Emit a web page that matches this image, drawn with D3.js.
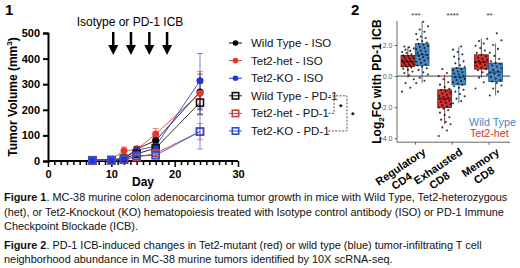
<!DOCTYPE html>
<html><head><meta charset="utf-8">
<script src="https://cdn.jsdelivr.net/npm/d3@7"></script>
<style>body{margin:0;background:#fff}svg{display:block;font-family:"Liberation Sans",Arial,sans-serif}</style>
</head><body><svg id="c" width="520" height="268"></svg>
<script>
// ---------- Panel 1 data ----------
const days = [7, 10, 12, 14, 17, 24];
const seriesNames = ["Wild Type - ISO", "Tet2-het - ISO", "Tet2-KO - ISO", "Wild Type - PD-1", "Tet2-het - PD-1", "Tet2-KO - PD-1"];
const wtIso = [3, 5, 10, 47, 80, 270];
const wtIsoErr = [1, 2, 4, 10, 12, 70];
const hetIso = [3, 6, 40, 45, 105, 265];
const hetIsoErr = [1, 2, 15, 10, 22, 85];
const koIso = [2, 4, 8, 42, 58, 313];
const koIsoErr = [1, 2, 3, 8, 12, 107];
const wtPd1 = [3, 4, 9, 28, 50, 228];
const wtPd1Err = [1, 2, 3, 6, 10, 45];
const hetPd1 = [2, 3, 6, 15, 30, 115];
const hetPd1Err = [1, 1, 2, 4, 8, 32];
const koPd1 = [2, 3, 5, 20, 22, 115];
const koPd1Err = [1, 1, 2, 5, 6, 68];
const yTicks1 = [0, 100, 200, 300, 400, 500];
const xTicks1 = [0, 10, 20, 30];
const arrowDays = [10.3, 13.1, 16, 18.8];

// ---------- Panel 2 data ----------
const cats = ["Regulatory\nCD4", "Exhausted\nCD8", "Memory\nCD8"];
const groups = ["Tet2-het", "Wild Type"];
const stars = ["***", "****", "**"];
// box stats [whiskerLow, q1, median, q3, whiskerHigh]
const hetBox = [[-0.1, 0.62, 0.94, 1.33, 1.9], [-3.1, -2.02, -1.46, -0.88, 0.1], [-0.1, 0.45, 0.9, 1.37, 2.4]];
const wtBox = [[-0.45, 0.68, 1.37, 2.08, 3.5], [-1.75, -0.56, -0.05, 0.52, 1.9], [-1.25, -0.35, 0.26, 0.84, 2.1]];
const hetRegPts = [-1.0, -0.75, -0.45, -0.2, 0.05, 0.2, 0.3, 0.4, 0.48, 0.55, 0.6, 0.63, 0.66, 0.7, 0.74, 0.78, 0.82, 0.86, 0.9, 0.93, 0.95, 0.98, 1.02, 1.06, 1.1, 1.14, 1.18, 1.22, 1.26, 1.3, 1.34, 1.4, 1.48, 1.55, 1.62, 1.7, 1.78, 1.85, 1.9];
const wtRegPts = [-0.45, -0.3, -0.1, 0.1, 0.25, 0.4, 0.5, 0.6, 0.68, 0.75, 0.85, 0.92, 1.0, 1.08, 1.15, 1.22, 1.3, 1.36, 1.42, 1.5, 1.58, 1.65, 1.72, 1.8, 1.88, 1.95, 2.02, 2.08, 2.15, 2.25, 2.35, 2.45, 2.55, 2.7, 2.85, 3.0, 3.2, 3.5];
const hetExhPts = [-3.85, -3.5, -3.3, -3.1, -2.95, -2.8, -2.65, -2.5, -2.35, -2.2, -2.1, -2.02, -1.95, -1.88, -1.8, -1.72, -1.65, -1.58, -1.52, -1.46, -1.4, -1.34, -1.28, -1.2, -1.12, -1.05, -0.98, -0.9, -0.82, -0.7, -0.55, -0.4, -0.2, 0.0, 0.2, 0.45];
const wtExhPts = [-1.75, -1.6, -1.45, -1.3, -1.15, -1.0, -0.88, -0.75, -0.65, -0.56, -0.48, -0.4, -0.32, -0.25, -0.18, -0.1, -0.05, 0.02, 0.1, 0.17, 0.24, 0.3, 0.38, 0.45, 0.52, 0.6, 0.7, 0.82, 0.95, 1.1, 1.25, 1.4, 1.55, 1.7, 1.9];
const hetMemPts = [-0.8, -0.4, -0.1, 0.1, 0.25, 0.38, 0.45, 0.55, 0.65, 0.72, 0.8, 0.88, 0.92, 0.98, 1.05, 1.12, 1.2, 1.28, 1.37, 1.5, 1.65, 1.8, 1.95, 2.1, 2.25, 2.4];
const wtMemPts = [-1.25, -1.0, -0.8, -0.6, -0.45, -0.35, -0.25, -0.15, -0.05, 0.05, 0.15, 0.22, 0.3, 0.4, 0.5, 0.6, 0.7, 0.78, 0.84, 0.95, 1.1, 1.3, 1.5, 1.75, 2.0, 2.3, 2.75];
const yTicks2 = [-4, -2, 0, 2];

// ---------- Caption ----------
const captionLines = [
  ["Figure 1", ". MC-38 murine colon adenocarcinoma tumor growth in mice with Wild Type, Tet2-heterozygous"],
  ["", "(het), or Tet2-Knockout (KO) hematopoiesis treated with Isotype control antibody (ISO) or PD-1 Immune"],
  ["", "Checkpoint Blockade (ICB)."],
  ["Figure 2", ". PD-1 ICB-induced changes in Tet2-mutant (red) or wild type (blue) tumor-infiltrating T cell"],
  ["", "neighborhood abundance in MC-38 murine tumors identified by 10X scRNA-seq."]
];

const svg = d3.select("#c");

// ================= PANEL 1 =================
const x1 = d3.scaleLinear().domain([0, 30]).range([48, 238]);
const y1 = d3.scaleLinear().domain([0, 500]).range([161, 33]);

svg.append("text").attr("x", 5).attr("y", 15).attr("font-size", 15).attr("font-weight", "bold").text("1");

const series = [
  {name: seriesNames[0], v: wtIso, e: wtIsoErr, color: "#000000", shape: "circle"},
  {name: seriesNames[1], v: hetIso, e: hetIsoErr, color: "#e8362a", shape: "circle"},
  {name: seriesNames[2], v: koIso, e: koIsoErr, color: "#2434d6", shape: "circle"},
  {name: seriesNames[3], v: wtPd1, e: wtPd1Err, color: "#111111", shape: "square"},
  {name: seriesNames[4], v: hetPd1, e: hetPd1Err, color: "#c8403a", shape: "square"},
  {name: seriesNames[5], v: koPd1, e: koPd1Err, color: "#2f4fd0", shape: "square"}
];

// axes
const yAx = svg.append("g").attr("transform", `translate(${x1(0)},0)`)
  .call(d3.axisLeft(y1).tickValues(yTicks1).tickSize(5).tickPadding(3));
yAx.select(".domain").attr("stroke-width", 2);
yAx.selectAll(".tick line").attr("stroke-width", 2);
yAx.selectAll(".tick text").attr("font-size", 11).attr("font-weight", "bold").attr("font-family", "Liberation Sans, Arial, sans-serif").attr("fill", "#000");

const xAx = svg.append("g").attr("transform", `translate(0,${y1(0)})`)
  .call(d3.axisBottom(x1).tickValues(d3.range(0, 31)).tickSize(4).tickFormat(d => xTicks1.includes(d) ? d : ""));
xAx.select(".domain").attr("stroke-width", 2).attr("d", `M${x1(0)},0H${x1(30)}`);
xAx.selectAll(".tick line").attr("stroke-width", 1.5).attr("y2", d => xTicks1.includes(d) ? 6 : 4);
xAx.selectAll(".tick text").attr("font-size", 11).attr("font-weight", "bold").attr("font-family", "Liberation Sans, Arial, sans-serif").attr("fill", "#000").attr("y", 9);

svg.append("text").attr("x", x1(15)).attr("y", 186).attr("text-anchor", "middle")
  .attr("font-size", 12).attr("font-weight", "bold").text("Day");

const yl = svg.append("text").attr("transform", `translate(17,${y1(250)}) rotate(-90)`).attr("text-anchor", "middle")
  .attr("font-size", 12).attr("font-weight", "bold");
yl.append("tspan").text("Tumor Volume (mm");
yl.append("tspan").attr("font-size", 8).attr("dy", -5).text("3");
yl.append("tspan").attr("dy", 5).text(")");

// ICB annotation
svg.append("text").attr("x", 130).attr("y", 26).attr("text-anchor", "middle").attr("font-size", 12).text("Isotype or PD-1 ICB");
const ar = svg.append("g").selectAll("g").data(arrowDays).join("g").attr("transform", d => `translate(${x1(d)},0)`);
ar.append("line").attr("x1", 0).attr("x2", 0).attr("y1", 32).attr("y2", 47).attr("stroke", "#000").attr("stroke-width", 2.5);
ar.append("path").attr("d", "M-5,45L5,45L0,55Z").attr("fill", "#000");

// lines
const line1 = d3.line().x((d, i) => x1(days[i])).y(d => y1(d));
series.forEach(s => {
  svg.append("path").attr("d", line1(s.v)).attr("fill", "none").attr("stroke", s.color).attr("stroke-width", 1).attr("stroke-opacity", 0.85);
});
// error bars
series.forEach(s => {
  const g = svg.append("g").attr("stroke", s.color).attr("stroke-width", 1).attr("stroke-opacity", 0.6);
  s.v.forEach((v, i) => {
    const cx = x1(days[i]);
    g.append("line").attr("x1", cx).attr("x2", cx).attr("y1", y1(v - s.e[i])).attr("y2", y1(v + s.e[i]));
    g.append("line").attr("x1", cx - 3).attr("x2", cx + 3).attr("y1", y1(v + s.e[i])).attr("y2", y1(v + s.e[i]));
    g.append("line").attr("x1", cx - 3).attr("x2", cx + 3).attr("y1", y1(v - s.e[i])).attr("y2", y1(v - s.e[i]));
  });
});
// markers
function drawMarker(g, s, cx, cy, small) {
  if (s.shape === "circle") {
    g.append("circle").attr("cx", cx).attr("cy", cy).attr("r", small ? 2.8 : 3.5).attr("fill", s.color);
  } else {
    const h = small ? 3.2 : 3.5;
    g.append("rect").attr("x", cx - h).attr("y", cy - h).attr("width", 2 * h).attr("height", 2 * h)
      .attr("fill", "none").attr("stroke", s.color).attr("stroke-width", 1.6);
  }
}
series.forEach(s => {
  const g = svg.append("g");
  s.v.forEach((v, i) => drawMarker(g, s, x1(days[i]), y1(v), false));
});

// legend
const legY = i => 43 + i * 17.6;
series.forEach((s, i) => {
  const g = svg.append("g");
  g.append("line").attr("x1", 229).attr("x2", 242).attr("y1", legY(i)).attr("y2", legY(i)).attr("stroke", s.color).attr("stroke-width", 1);
  drawMarker(g, s, 235.5, legY(i), true);
  g.append("text").attr("x", 251).attr("y", legY(i) + 4).attr("font-size", 11.5).attr("fill", "#111").text(s.name);
});
// significance brackets
const br = svg.append("g").attr("fill", "none").attr("stroke", "#555").attr("stroke-width", 1).attr("stroke-dasharray", "2,1.5");
br.append("path").attr("d", `M329,${legY(3)}H347V${legY(5)}H327`);
br.append("path").attr("d", `M334,${legY(3)}V${legY(4)}H327`);
svg.append("text").attr("x", 339).attr("y", (legY(3) + legY(4)) / 2 + 5).attr("font-size", 9).attr("font-weight", "bold").text("*");
svg.append("text").attr("x", 351).attr("y", (legY(3) + legY(5)) / 2 + 5).attr("font-size", 9).attr("font-weight", "bold").text("*");

// ================= PANEL 2 =================
const x2 = d3.scalePoint().domain(cats).range([415, 488.5]);
const y2 = d3.scaleLinear().domain([-4, 2]).range([138.3, 45]);
const dodge = d3.scaleBand().domain(groups).range([-14, 14]).paddingInner(0.03);
const axL = 397, axR = 510, axTop = y2(3.55), axBot = y2(-4.25);
const grpColors = {"Tet2-het": {fill: "#d6312d", stroke: "#7a1212"}, "Wild Type": {fill: "#4a88c6", stroke: "#1f4f80"}};

svg.append("text").attr("x", 351).attr("y", 15).attr("font-size", 15).attr("font-weight", "bold").text("2");

const yAx2 = svg.append("g").attr("transform", `translate(${axL},0)`)
  .call(d3.axisLeft(y2).tickValues(yTicks2).tickSize(2.5).tickPadding(2));
yAx2.select(".domain").attr("d", `M0,${axTop}V${axBot}`).attr("stroke", "#666");
yAx2.selectAll(".tick line").attr("stroke", "#666");
yAx2.selectAll(".tick text").attr("font-size", 7).attr("fill", "#555").attr("font-family", "Liberation Sans, Arial, sans-serif");

const xAx2 = svg.append("g").attr("transform", `translate(0,${axBot})`)
  .call(d3.axisBottom(x2).tickSize(2.5).tickFormat(""));
xAx2.select(".domain").attr("d", `M${axL},0H${axR}`).attr("stroke", "#666");
xAx2.selectAll(".tick line").attr("stroke", "#666");

// zero line
svg.append("line").attr("x1", axL).attr("x2", axR).attr("y1", y2(0)).attr("y2", y2(0)).attr("stroke", "#444").attr("stroke-width", 1);

const boxData = [];
cats.forEach((c, ci) => {
  boxData.push({cat: c, grp: "Tet2-het", b: hetBox[ci]});
  boxData.push({cat: c, grp: "Wild Type", b: wtBox[ci]});
});
const ptsByKey = {
  "0Tet2-het": hetRegPts, "0Wild Type": wtRegPts,
  "1Tet2-het": hetExhPts, "1Wild Type": wtExhPts,
  "2Tet2-het": hetMemPts, "2Wild Type": wtMemPts
};
const bw = dodge.bandwidth();
boxData.forEach(d => {
  const ci = cats.indexOf(d.cat);
  const x0 = x2(d.cat) + dodge(d.grp);
  const cx = x0 + bw / 2;
  const col = grpColors[d.grp];
  const g = svg.append("g");
  g.append("line").attr("x1", cx).attr("x2", cx).attr("y1", y2(d.b[0])).attr("y2", y2(d.b[4])).attr("stroke", col.stroke).attr("stroke-width", 0.8);
  g.append("rect").attr("x", x0).attr("y", y2(d.b[3])).attr("width", bw).attr("height", y2(d.b[1]) - y2(d.b[3]))
    .attr("fill", col.fill).attr("stroke", col.stroke).attr("stroke-width", 0.8);
  g.append("line").attr("x1", x0).attr("x2", x0 + bw).attr("y1", y2(d.b[2])).attr("y2", y2(d.b[2])).attr("stroke", col.stroke).attr("stroke-width", 1.2);
  const pts = ptsByKey[ci + d.grp];
  g.selectAll("circle").data(pts).join("circle")
    .attr("cx", (v, i) => cx + (((i * 7) % 11) / 10 - 0.5) * bw * 0.85)
    .attr("cy", v => y2(v)).attr("r", 1.05).attr("fill", "#111").attr("fill-opacity", 0.85);
});

// stars
cats.forEach((c, i) => {
  svg.append("text").attr("x", x2(c) + 1).attr("y", 18).attr("text-anchor", "middle").attr("font-size", 8).attr("fill", "#333").text(stars[i]);
});

// y label
const yl2 = svg.append("text").attr("transform", `translate(381,${(axTop + axBot) / 2}) rotate(-90)`).attr("text-anchor", "middle")
  .attr("font-size", 12).attr("font-weight", "bold");
yl2.append("tspan").text("Log");
yl2.append("tspan").attr("font-size", 8).attr("dy", 3).text("2");
yl2.append("tspan").attr("dy", -3).text("FC with PD-1 ICB");

// x labels
cats.forEach(c => {
  const lines = c.split("\n");
  const g = svg.append("g").attr("transform", `translate(${x2(c) + 7},${axBot + 5}) rotate(-34)`);
  const t = g.selectAll("text").data(lines).join("text").attr("font-size", 11).attr("font-weight", "bold").text(d => d);
  const w = d3.max(t.nodes(), n => n.getComputedTextLength());
  t.attr("x", (d, i, nodes) => -w + (w - nodes[i].getComputedTextLength()) * 0.3).attr("y", (d, i) => 8 + i * 12.5);
});

// legend
const lgW = svg.append("text").attr("x", 469).attr("y", 126).attr("font-size", 12).attr("fill", grpColors["Wild Type"].fill).text("Wild Type");
const lgFs = 12 * 47 / lgW.node().getComputedTextLength();
lgW.attr("font-size", lgFs);
svg.append("text").attr("x", 470).attr("y", 137).attr("font-size", lgFs).attr("fill", grpColors["Tet2-het"].fill).text("Tet2-het");

// ================= CAPTION =================
const capY = [201, 215.5, 230, 248.5, 263];
const capTexts = captionLines.map((l, i) => {
  const t = svg.append("text").attr("x", 4).attr("y", capY[i]).attr("font-size", 11).attr("fill", "#111");
  if (l[0]) t.append("tspan").attr("font-weight", "bold").text(l[0]);
  t.append("tspan").text(l[1]);
  return t;
});
const capFs = 11 * 504 / capTexts[0].node().getComputedTextLength();
capTexts.forEach(t => t.attr("font-size", capFs));
</script></body></html>
